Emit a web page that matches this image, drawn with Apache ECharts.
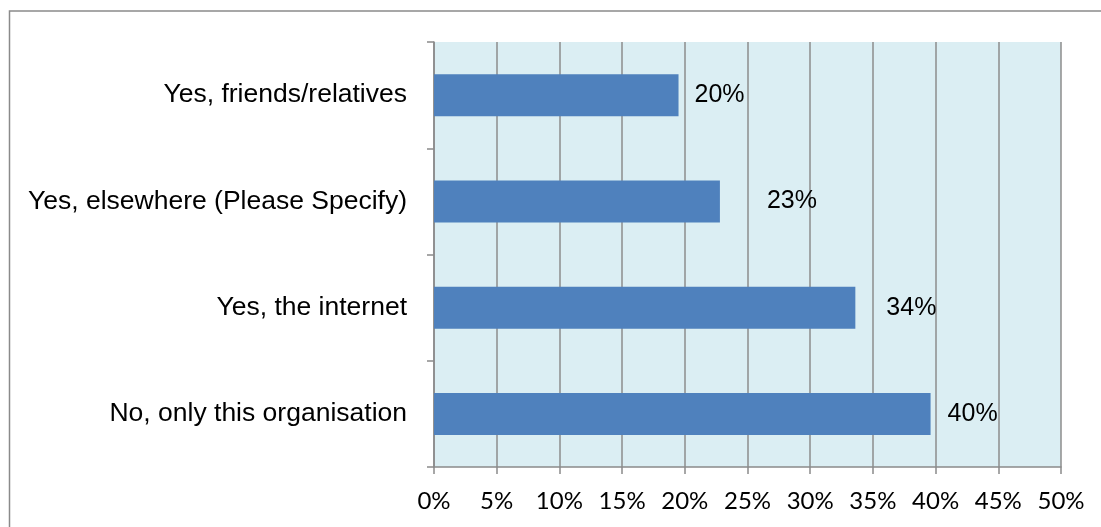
<!DOCTYPE html>
<html>
<head>
<meta charset="utf-8">
<script src="https://cdn.jsdelivr.net/npm/echarts@6/dist/echarts.min.js"></script>
<style>
html,body{margin:0;padding:0;background:#fff;}
#chart{width:1101px;height:527px;}
</style>
</head>
<body>
<div id="chart"></div>
<script>
const categories = ['No, only this organisation', 'Yes, the internet', 'Yes, elsewhere (Please Specify)', 'Yes, friends/relatives'];
const values = [39.6, 33.6, 22.8, 19.5];
const labelDistances = [17, 31, 47, 16];
const xTicks = [0, 5, 10, 15, 20, 25, 30, 35, 40, 45, 50];

const chart = echarts.init(document.getElementById('chart'));
chart.setOption({
  animation: false,
  backgroundColor: '#ffffff',
  graphic: [{
    type: 'rect',
    shape: { x: 9.5, y: 11, width: 1200, height: 600 },
    style: { fill: 'none', stroke: '#8a8a8a', lineWidth: 1.5 },
    silent: true
  }],
  grid: { left: 434, right: 40, top: 42, bottom: 60, show: true, backgroundColor: '#DBEEF3', borderWidth: 0 },
  xAxis: {
    type: 'value',
    min: xTicks[0], max: xTicks[xTicks.length - 1], interval: 5,
    axisLine: { show: true, lineStyle: { color: '#8a8a8a', width: 1.5 } },
    axisTick: { show: true, length: 7, lineStyle: { color: '#8a8a8a', width: 1.5 } },
    splitLine: { show: true, lineStyle: { color: '#8c8c8c', width: 1.5 } },
    axisLabel: { formatter: v => v + '%', color: '#000', fontFamily: 'Lato', fontSize: 24, margin: 22 }
  },
  yAxis: {
    type: 'category',
    data: categories,
    axisLine: { show: true, lineStyle: { color: '#8a8a8a', width: 1.5 } },
    axisTick: { show: true, length: 7, lineStyle: { color: '#8a8a8a', width: 1.5 } },
    axisLabel: { color: '#000', fontFamily: 'Liberation Sans, Arial', fontSize: 26.5, margin: 27 }
  },
  series: [{
    type: 'bar',
    barWidth: 42,
    itemStyle: { color: '#4F81BD' },
    data: values.map((v, i) => ({
      value: v,
      label: { distance: labelDistances[i] }
    })),
    label: {
      show: true, position: 'right',
      formatter: p => Math.round(p.value) + '%',
      color: '#000', fontFamily: 'Liberation Sans, Arial', fontSize: 25
    }
  }]
});
</script>
</body>
</html>
